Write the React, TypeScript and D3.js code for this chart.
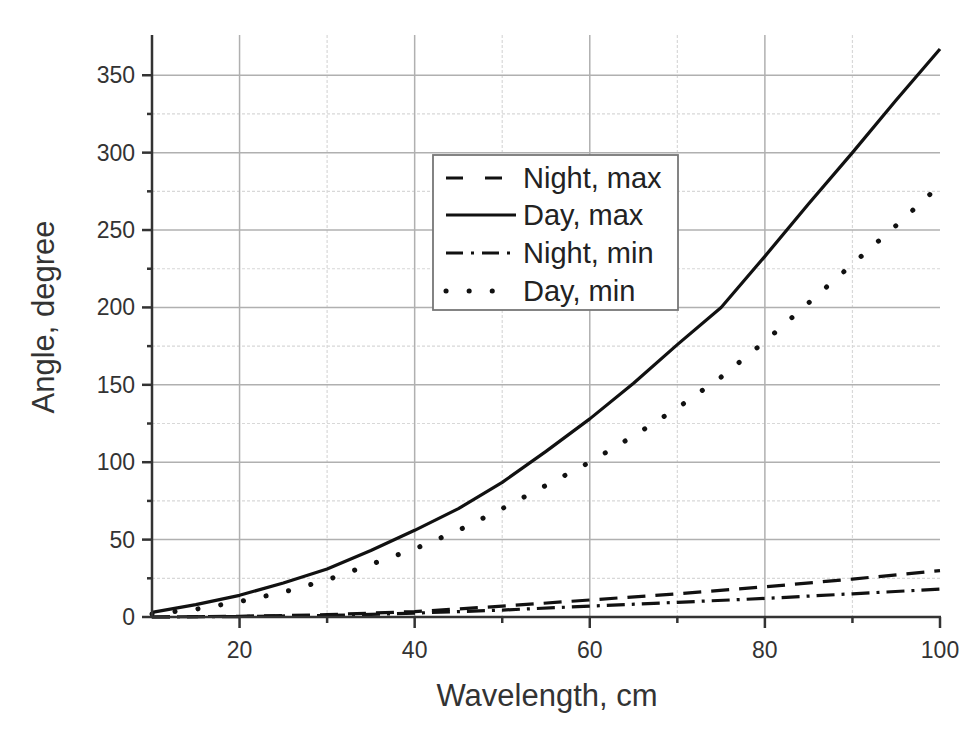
import React from "react";
import * as d3 from "d3";

const dayMaxX = [10, 15, 20, 25, 30, 35, 40, 45, 50, 55, 60, 65, 70, 75, 80, 85, 90, 95, 100];
const dayMaxY = [3, 8, 14, 22, 31, 43, 56, 70, 87, 107, 128, 151, 176, 200, 233, 267, 300, 334, 367];

const dayMinX = [10, 15, 20, 25, 30, 35, 40, 45, 50, 55, 60, 65, 70, 75, 80, 85, 90, 95, 100];
const dayMinY = [2, 5, 10, 16, 24, 34, 44, 56, 70, 85, 100, 117, 135, 155, 178, 203, 228, 253, 279];

const nightMaxX = [10, 20, 30, 40, 50, 60, 70, 80, 90, 100];
const nightMaxY = [0, 0.5, 1.5, 3.5, 7, 11, 15, 19.5, 24.5, 30];

const nightMinX = [10, 20, 30, 40, 50, 60, 70, 80, 90, 100];
const nightMinY = [0, 0.3, 1, 2.5, 4.5, 7, 9.5, 12, 15, 18];

const seriesNames = ["Night, max", "Day, max", "Night, min", "Day, min"];
const xTicks = [20, 40, 60, 80, 100];
const xMinorTicks = [30, 50, 70, 90];
const yTicks = [0, 50, 100, 150, 200, 250, 300, 350];
const yMinorTicks = [25, 75, 125, 175, 225, 275, 325];

const FONT = "'Liberation Sans', Arial, sans-serif";

export default function App() {
  const W = 976, H = 746;
  const left = 152, right = 940, top = 35, bottom = 617;
  const x = d3.scaleLinear().domain([10, 100]).range([left, right]);
  const y = d3.scaleLinear().domain([0, 376]).range([bottom, top]);

  const line = d3.line<[number, number]>().x(d => x(d[0])).y(d => y(d[1]));
  const mk = (xs: number[], ys: number[]) => xs.map((v, i) => [v, ys[i]] as [number, number]);

  const styles = [
    { data: mk(nightMaxX, nightMaxY), dash: "18 10", width: 3.2, cap: "butt" },
    { data: mk(dayMaxX, dayMaxY), dash: "none", width: 3.2, cap: "butt" },
    { data: mk(nightMinX, nightMinY), dash: "18 7 3 7", width: 3.2, cap: "butt" },
    { data: mk(dayMinX, dayMinY), dash: "0.1 23", width: 5, cap: "round" },
  ];

  const legX = 433, legY = 155, legW = 245, legH = 155;
  const rowY = [178, 215, 253, 291];

  return (
    <svg width={W} height={H} style={{ position: "absolute", left: 0, top: 0, background: "#fff" }}>
      <rect x={0} y={0} width={W} height={H} fill="#fff" />
      {xMinorTicks.map(t => (
        <line key={"xm" + t} x1={x(t)} x2={x(t)} y1={top} y2={bottom} stroke="#d8d8d8" strokeWidth={1.2} strokeDasharray="3 2" />
      ))}
      {yMinorTicks.map(t => (
        <line key={"ym" + t} x1={left} x2={right} y1={y(t)} y2={y(t)} stroke="#d8d8d8" strokeWidth={1.2} strokeDasharray="3 2" />
      ))}
      {xTicks.filter(t => t < 100).map(t => (
        <line key={"xg" + t} x1={x(t)} x2={x(t)} y1={top} y2={bottom} stroke="#b0b0b0" strokeWidth={1.5} />
      ))}
      {yTicks.filter(t => t > 0).map(t => (
        <line key={"yg" + t} x1={left} x2={right} y1={y(t)} y2={y(t)} stroke="#b0b0b0" strokeWidth={1.5} />
      ))}
      {styles.map((s, i) => (
        <path key={"s" + i} d={line(s.data) || ""} fill="none" stroke="#111" strokeWidth={s.width}
          strokeDasharray={s.dash} strokeLinecap={s.cap as any} strokeLinejoin="round" />
      ))}
      <line x1={left} x2={left} y1={top} y2={bottom + 1} stroke="#333" strokeWidth={2.5} />
      <line x1={left - 1} x2={right + 1} y1={bottom} y2={bottom} stroke="#333" strokeWidth={2.5} />
      {xTicks.map(t => (
        <g key={"xt" + t}>
          <line x1={x(t)} x2={x(t)} y1={bottom} y2={bottom + 11} stroke="#333" strokeWidth={2.5} />
          <text x={x(t)} y={658} textAnchor="middle" fontFamily={FONT} fontSize={23} fill="#333">{t}</text>
        </g>
      ))}
      {xMinorTicks.map(t => (
        <line key={"xmt" + t} x1={x(t)} x2={x(t)} y1={bottom} y2={bottom + 6} stroke="#333" strokeWidth={2.5} />
      ))}
      {yTicks.map(t => (
        <g key={"yt" + t}>
          <line x1={left - 10} x2={left} y1={y(t)} y2={y(t)} stroke="#333" strokeWidth={2.5} />
          <text x={135} y={y(t) + 8} textAnchor="end" fontFamily={FONT} fontSize={23} fill="#333">{t}</text>
        </g>
      ))}
      {yMinorTicks.map(t => (
        <line key={"ymt" + t} x1={left - 5} x2={left} y1={y(t)} y2={y(t)} stroke="#333" strokeWidth={2.5} />
      ))}
      <text x={547} y={706} textAnchor="middle" fontFamily={FONT} fontSize={31} fill="#333">Wavelength, cm</text>
      <text transform="translate(54,317) rotate(-90)" textAnchor="middle" fontFamily={FONT} fontSize={31} fill="#333">Angle, degree</text>
      <rect x={legX} y={legY} width={legW} height={legH} fill="#fff" stroke="#777" strokeWidth={1.8} />
      {styles.map((s, i) => (
        <g key={"lg" + i}>
          <line x1={446} x2={i === 3 ? 512 : 516} y1={rowY[i]} y2={rowY[i]} stroke="#111" strokeWidth={s.width}
            strokeDasharray={i === 0 ? "17 22" : i === 2 ? "17 8 3 8" : i === 3 ? "0.1 23" : "none"}
            strokeLinecap={s.cap as any} />
          <text x={523} y={rowY[i] + 10} fontFamily={FONT} fontSize={29} fill="#222">{seriesNames[i]}</text>
        </g>
      ))}
    </svg>
  );
}
